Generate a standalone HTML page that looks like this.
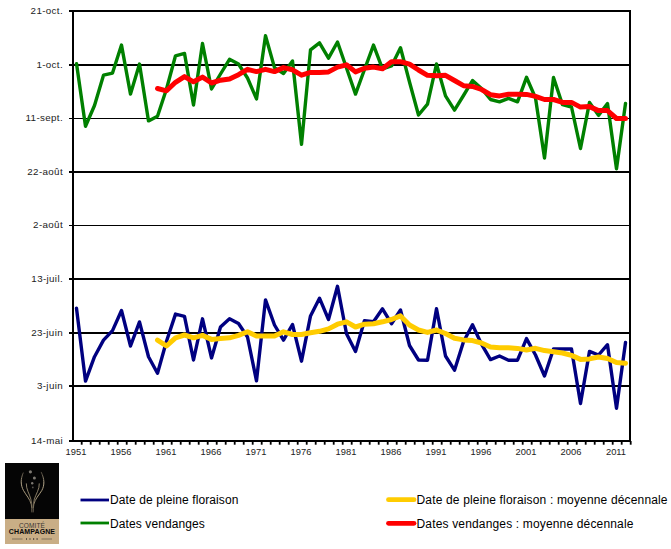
<!DOCTYPE html>
<html><head><meta charset="utf-8"><title>Chart</title>
<style>
html,body{margin:0;padding:0;background:#fff;}
body{width:671px;height:549px;position:relative;overflow:hidden;font-family:"Liberation Sans",sans-serif;color:#000;}
.yl{position:absolute;right:608px;font-size:9.8px;line-height:12px;height:12px;white-space:nowrap;color:#222;letter-spacing:0.35px;}
.xl{position:absolute;top:446.4px;width:40px;text-align:center;font-size:9.35px;line-height:12px;white-space:nowrap;color:#222;}
.lg{position:absolute;font-size:12px;line-height:14px;white-space:nowrap;color:#000;}
#logo{position:absolute;left:5px;top:463px;width:54px;height:81px;background:#c9ae86;}
#logo .blk{position:absolute;left:0;top:0;width:54px;height:56px;background:#050505;}
#logo .t1{position:absolute;left:0;width:54px;text-align:center;top:59px;font-size:6.5px;line-height:7px;color:#3a3632;letter-spacing:0.1px;}
#logo .t2{position:absolute;left:0;width:54px;text-align:center;top:65.3px;font-size:7px;line-height:8px;color:#0a0a0a;font-weight:bold;letter-spacing:0.1px;}
</style></head><body>

<svg width="671" height="549" viewBox="0 0 671 549" style="position:absolute;left:0;top:0">
<g shape-rendering="crispEdges" fill="#000">
<rect x="69" y="10" width="562" height="2"/>
<rect x="69" y="64" width="562" height="2"/>
<rect x="69" y="118" width="562" height="1"/>
<rect x="69" y="171" width="562" height="2"/>
<rect x="69" y="225" width="562" height="1"/>
<rect x="69" y="278" width="562" height="2"/>
<rect x="69" y="332" width="562" height="2"/>
<rect x="69" y="385" width="562" height="2"/>
<rect x="69" y="440" width="562" height="2"/>
<rect x="72" y="10" width="2" height="432"/>
<rect x="629" y="10" width="2" height="432"/>
</g>
<rect x="80.80" y="441" width="1.8" height="3.7" fill="#000"/>
<rect x="89.80" y="441" width="1.8" height="3.7" fill="#000"/>
<rect x="98.80" y="441" width="1.8" height="3.7" fill="#000"/>
<rect x="107.80" y="441" width="1.8" height="3.7" fill="#000"/>
<rect x="116.80" y="441" width="1.8" height="3.7" fill="#000"/>
<rect x="125.80" y="441" width="1.8" height="3.7" fill="#000"/>
<rect x="134.80" y="441" width="1.8" height="3.7" fill="#000"/>
<rect x="143.80" y="441" width="1.8" height="3.7" fill="#000"/>
<rect x="152.80" y="441" width="1.8" height="3.7" fill="#000"/>
<rect x="161.80" y="441" width="1.8" height="3.7" fill="#000"/>
<rect x="170.80" y="441" width="1.8" height="3.7" fill="#000"/>
<rect x="179.80" y="441" width="1.8" height="3.7" fill="#000"/>
<rect x="188.80" y="441" width="1.8" height="3.7" fill="#000"/>
<rect x="197.80" y="441" width="1.8" height="3.7" fill="#000"/>
<rect x="206.80" y="441" width="1.8" height="3.7" fill="#000"/>
<rect x="215.80" y="441" width="1.8" height="3.7" fill="#000"/>
<rect x="224.80" y="441" width="1.8" height="3.7" fill="#000"/>
<rect x="233.80" y="441" width="1.8" height="3.7" fill="#000"/>
<rect x="242.80" y="441" width="1.8" height="3.7" fill="#000"/>
<rect x="251.80" y="441" width="1.8" height="3.7" fill="#000"/>
<rect x="260.80" y="441" width="1.8" height="3.7" fill="#000"/>
<rect x="269.80" y="441" width="1.8" height="3.7" fill="#000"/>
<rect x="278.80" y="441" width="1.8" height="3.7" fill="#000"/>
<rect x="287.80" y="441" width="1.8" height="3.7" fill="#000"/>
<rect x="296.80" y="441" width="1.8" height="3.7" fill="#000"/>
<rect x="305.80" y="441" width="1.8" height="3.7" fill="#000"/>
<rect x="314.80" y="441" width="1.8" height="3.7" fill="#000"/>
<rect x="323.80" y="441" width="1.8" height="3.7" fill="#000"/>
<rect x="332.80" y="441" width="1.8" height="3.7" fill="#000"/>
<rect x="341.80" y="441" width="1.8" height="3.7" fill="#000"/>
<rect x="350.80" y="441" width="1.8" height="3.7" fill="#000"/>
<rect x="359.80" y="441" width="1.8" height="3.7" fill="#000"/>
<rect x="368.80" y="441" width="1.8" height="3.7" fill="#000"/>
<rect x="377.80" y="441" width="1.8" height="3.7" fill="#000"/>
<rect x="386.80" y="441" width="1.8" height="3.7" fill="#000"/>
<rect x="395.80" y="441" width="1.8" height="3.7" fill="#000"/>
<rect x="404.80" y="441" width="1.8" height="3.7" fill="#000"/>
<rect x="413.80" y="441" width="1.8" height="3.7" fill="#000"/>
<rect x="422.80" y="441" width="1.8" height="3.7" fill="#000"/>
<rect x="431.80" y="441" width="1.8" height="3.7" fill="#000"/>
<rect x="440.80" y="441" width="1.8" height="3.7" fill="#000"/>
<rect x="449.80" y="441" width="1.8" height="3.7" fill="#000"/>
<rect x="458.80" y="441" width="1.8" height="3.7" fill="#000"/>
<rect x="467.80" y="441" width="1.8" height="3.7" fill="#000"/>
<rect x="476.80" y="441" width="1.8" height="3.7" fill="#000"/>
<rect x="485.80" y="441" width="1.8" height="3.7" fill="#000"/>
<rect x="494.80" y="441" width="1.8" height="3.7" fill="#000"/>
<rect x="503.80" y="441" width="1.8" height="3.7" fill="#000"/>
<rect x="512.80" y="441" width="1.8" height="3.7" fill="#000"/>
<rect x="521.80" y="441" width="1.8" height="3.7" fill="#000"/>
<rect x="530.80" y="441" width="1.8" height="3.7" fill="#000"/>
<rect x="539.80" y="441" width="1.8" height="3.7" fill="#000"/>
<rect x="548.80" y="441" width="1.8" height="3.7" fill="#000"/>
<rect x="557.80" y="441" width="1.8" height="3.7" fill="#000"/>
<rect x="566.80" y="441" width="1.8" height="3.7" fill="#000"/>
<rect x="575.80" y="441" width="1.8" height="3.7" fill="#000"/>
<rect x="584.80" y="441" width="1.8" height="3.7" fill="#000"/>
<rect x="593.80" y="441" width="1.8" height="3.7" fill="#000"/>
<rect x="602.80" y="441" width="1.8" height="3.7" fill="#000"/>
<rect x="611.80" y="441" width="1.8" height="3.7" fill="#000"/>
<rect x="620.80" y="441" width="1.8" height="3.7" fill="#000"/>
<rect x="629.80" y="441" width="1.8" height="3.7" fill="#000"/>
<polyline points="76.5,308.2 85.5,381.1 94.5,356.7 103.5,340.1 112.5,330.6 121.5,310.5 130.5,346.0 139.5,321.9 148.5,356.7 157.5,373.3 166.5,341.3 175.5,314.1 184.5,316.4 193.5,360.0 202.5,318.8 211.5,357.9 220.5,327.1 229.5,318.8 238.5,323.5 247.5,337.0 256.5,380.8 265.5,299.9 274.5,325.0 283.5,340.1 292.5,324.5 301.5,361.2 310.5,315.9 319.5,298.2 328.5,319.5 337.5,286.3 346.5,333.7 355.5,351.4 364.5,320.6 373.5,321.8 382.5,308.8 391.5,323.7 400.5,310.0 409.5,345.5 418.5,360.0 427.5,360.3 436.5,308.7 445.5,356.0 454.5,370.2 463.5,341.8 472.5,324.8 481.5,344.2 490.5,359.6 499.5,356.0 508.5,360.3 517.5,360.2 526.5,338.6 535.5,355.0 544.5,376.0 553.5,349.0 562.5,349.0 571.5,349.0 580.5,403.5 589.5,351.4 598.5,355.0 607.5,344.7 616.5,408.2 625.5,342.4" fill="none" stroke="#000080" stroke-width="3.4" stroke-linejoin="round" stroke-linecap="round"/>
<polyline points="76.5,63.6 85.5,126.3 94.5,105.5 103.5,75.2 112.5,73.1 121.5,45.1 130.5,94.1 139.5,64.1 148.5,120.9 157.5,116.2 166.5,89.0 175.5,55.8 184.5,53.4 193.5,105.0 202.5,43.5 211.5,89.0 220.5,74.0 229.5,59.3 238.5,64.0 247.5,78.0 256.5,98.9 265.5,35.7 274.5,67.6 283.5,73.5 292.5,61.0 301.5,144.3 310.5,49.9 319.5,42.8 328.5,58.2 337.5,42.0 346.5,68.0 355.5,94.1 364.5,69.5 373.5,45.1 382.5,68.8 391.5,66.0 400.5,47.8 409.5,82.0 418.5,115.0 427.5,104.2 436.5,64.0 445.5,95.9 454.5,110.1 463.5,95.5 472.5,80.5 481.5,88.5 490.5,99.5 499.5,101.8 508.5,98.3 517.5,101.8 526.5,77.3 535.5,98.0 544.5,158.0 553.5,77.5 562.5,104.7 571.5,107.0 580.5,148.5 589.5,102.4 598.5,115.4 607.5,103.5 616.5,168.7 625.5,103.5" fill="none" stroke="#008000" stroke-width="3.4" stroke-linejoin="round" stroke-linecap="round"/>
<polyline points="157.5,340.1 166.5,346.0 175.5,337.8 184.5,335.0 193.5,337.8 202.5,335.4 211.5,339.4 220.5,338.5 229.5,337.8 238.5,335.4 247.5,331.8 256.5,336.1 265.5,336.1 274.5,336.1 283.5,331.8 292.5,334.5 301.5,334.5 310.5,332.7 319.5,331.3 328.5,328.9 337.5,324.2 346.5,321.8 355.5,327.0 364.5,324.2 373.5,323.7 382.5,321.8 391.5,319.5 400.5,315.9 409.5,325.0 418.5,330.0 427.5,332.4 436.5,330.0 445.5,333.5 454.5,338.3 463.5,339.9 472.5,340.6 481.5,343.0 490.5,347.0 499.5,347.8 508.5,347.8 517.5,348.4 526.5,350.0 535.5,348.3 544.5,350.6 553.5,351.8 562.5,353.0 571.5,355.4 580.5,359.4 589.5,358.9 598.5,357.0 607.5,358.5 616.5,362.5 625.5,363.2" fill="none" stroke="#FFCC00" stroke-width="5.0" stroke-linejoin="round" stroke-linecap="round"/>
<polyline points="157.5,88.5 166.5,90.8 175.5,82.3 184.5,76.6 193.5,81.8 202.5,77.1 211.5,83.0 220.5,80.2 229.5,79.0 238.5,74.7 247.5,69.3 256.5,71.6 265.5,69.3 274.5,71.6 283.5,67.6 292.5,69.8 301.5,75.2 310.5,72.4 319.5,72.4 328.5,71.9 337.5,67.1 346.5,64.8 355.5,71.9 364.5,68.3 373.5,67.1 382.5,68.8 391.5,61.7 400.5,61.7 409.5,64.1 418.5,70.0 427.5,75.3 436.5,75.8 445.5,75.3 454.5,80.5 463.5,85.7 472.5,86.4 481.5,89.5 490.5,94.7 499.5,95.9 508.5,94.3 517.5,94.2 526.5,94.4 535.5,96.4 544.5,99.5 553.5,99.5 562.5,102.4 571.5,102.4 580.5,107.1 589.5,106.6 598.5,110.6 607.5,110.6 616.5,118.5 625.5,118.5" fill="none" stroke="#FF0000" stroke-width="5.0" stroke-linejoin="round" stroke-linecap="round"/>
<line x1="80.5" y1="500" x2="109" y2="500" stroke="#000080" stroke-width="2.8"/>
<line x1="80.5" y1="523" x2="109" y2="523" stroke="#008000" stroke-width="2.8"/>
<line x1="388.5" y1="499.7" x2="414" y2="499.7" stroke="#FFCC00" stroke-width="4.8" stroke-linecap="round"/>
<line x1="388.5" y1="523.3" x2="414" y2="523.3" stroke="#FF0000" stroke-width="4.8" stroke-linecap="round"/>
</svg>
<div class="yl" style="top:4.7px">21-oct.</div>
<div class="yl" style="top:58.7px">1-oct.</div>
<div class="yl" style="top:112.2px">11-sept.</div>
<div class="yl" style="top:165.7px">22-août</div>
<div class="yl" style="top:219.2px">2-août</div>
<div class="yl" style="top:272.7px">13-juil.</div>
<div class="yl" style="top:326.7px">23-juin</div>
<div class="yl" style="top:379.7px">3-juin</div>
<div class="yl" style="top:434.7px">14-mai</div>
<div class="xl" style="left:56.0px">1951</div>
<div class="xl" style="left:101.0px">1956</div>
<div class="xl" style="left:146.0px">1961</div>
<div class="xl" style="left:191.0px">1966</div>
<div class="xl" style="left:236.0px">1971</div>
<div class="xl" style="left:281.0px">1976</div>
<div class="xl" style="left:326.0px">1981</div>
<div class="xl" style="left:371.0px">1986</div>
<div class="xl" style="left:416.0px">1991</div>
<div class="xl" style="left:461.0px">1996</div>
<div class="xl" style="left:506.0px">2001</div>
<div class="xl" style="left:551.0px">2006</div>
<div class="xl" style="left:596.0px">2011</div>
<div class="lg" id="lg1" style="left:110px;top:493px;letter-spacing:0.1px">Date de pleine floraison</div>
<div class="lg" id="lg2" style="left:110px;top:516.5px;letter-spacing:0.1px">Dates vendanges</div>
<div class="lg" id="lg3" style="left:416.5px;top:493px;letter-spacing:0.16px">Date de pleine floraison : moyenne décennale</div>
<div class="lg" id="lg4" style="left:416.5px;top:516.5px;letter-spacing:0.16px">Dates vendanges : moyenne décennale</div>
<div id="logo"><div class="blk"></div>
<svg width="54" height="56" viewBox="0 0 54 56" style="position:absolute;left:0;top:0">
<defs><linearGradient id="gg" gradientUnits="userSpaceOnUse" x1="0" y1="9" x2="0" y2="50">
<stop offset="0" stop-color="#4a4338"/><stop offset="0.25" stop-color="#b0a388"/><stop offset="0.6" stop-color="#a8997a"/><stop offset="1" stop-color="#5c5345"/></linearGradient></defs>
<g fill="none" stroke="url(#gg)" stroke-width="1" stroke-linecap="round">
<path d="M18.2 9.9 C15.5 16 15.5 22 18.5 27.5 C21 32 25 36 26.3 41.5 C26.8 44 26.8 47 26.8 49"/>
<path d="M36.3 9.3 C39.5 16 39.8 22 36.8 27.5 C34 32 30 36 28.8 41.5 C28.3 44 28.2 47 28.2 49"/>
<path d="M21.3 20.8 C21 26 24.5 31 25.8 36 C26.6 39 26.9 42 27 45" stroke-width="0.8"/>
<path d="M34.3 20.8 C34.6 26 31 31 29.4 36 C28.6 39 28.2 42 28 45" stroke-width="0.8"/>
</g>
<g fill="#7d7972"><circle cx="25.4" cy="8.8" r="1.6"/><circle cx="29.4" cy="15.1" r="1.5"/><circle cx="27.2" cy="20.2" r="1.2"/><circle cx="27.8" cy="24.4" r="0.9" fill="#55524c"/></g>
</svg>
<div class="t1">COMITÉ</div><div class="t2">CHAMPAGNE</div>
<svg width="54" height="10" viewBox="0 0 54 10" style="position:absolute;left:0;top:71px">
<line x1="7" y1="5" x2="17.5" y2="5" stroke="#3a352e" stroke-width="0.5"/><line x1="36.5" y1="5" x2="47" y2="5" stroke="#3a352e" stroke-width="0.5"/>
<g fill="#4a443c"><rect x="21" y="4.2" width="1" height="1.6"/><rect x="24.5" y="4.2" width="1" height="1.6"/><rect x="28" y="4.2" width="1.2" height="1.6"/><rect x="31.5" y="4.2" width="1.2" height="1.6"/></g>
</svg>
</div>
</body></html>
